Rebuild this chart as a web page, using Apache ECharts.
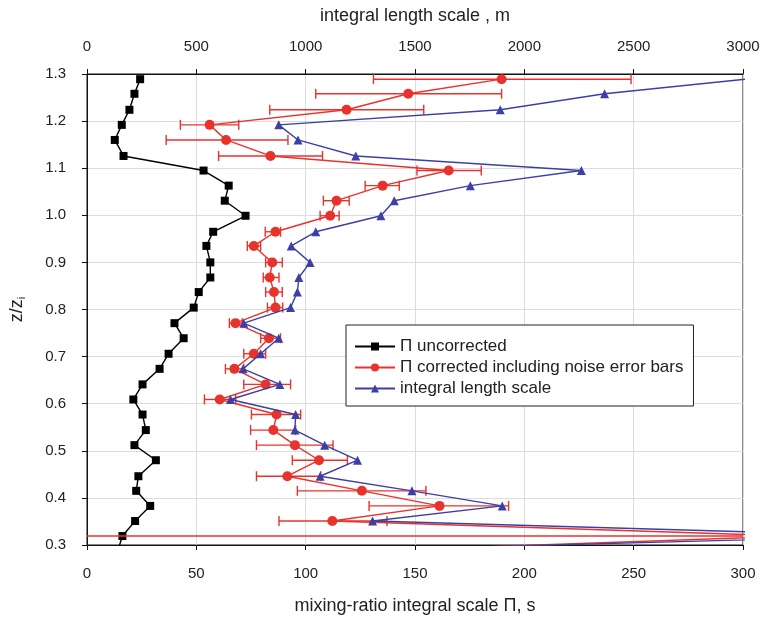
<!DOCTYPE html>
<html>
<head>
<meta charset="utf-8">
<script src="https://cdn.jsdelivr.net/npm/echarts@6/dist/echarts.min.js"></script>
<style>
  html, body { margin: 0; padding: 0; background: #fff; }
  #chart { width: 765px; height: 627px; }
</style>
</head>
<body>
<div id="chart"></div>
<script>
// height levels z/zi, bottom to top (first one lies below the axis)
var zLevels = [0.287, 0.319, 0.351, 0.383, 0.415, 0.446, 0.480, 0.512, 0.544, 0.577,
  0.609, 0.641, 0.674, 0.706, 0.739, 0.771, 0.804, 0.837, 0.868, 0.900,
  0.935, 0.965, 0.999, 1.031, 1.063, 1.095, 1.126, 1.160, 1.192, 1.224,
  1.258, 1.289];

// Π uncorrected, s
var piRaw = [14, 16.2, 22.0, 28.9, 22.5, 23.5, 31.5, 21.7, 26.9, 25.4,
  21.2, 25.4, 33.2, 37.3, 44.2, 40.0, 48.8, 51.1, 56.4, 56.4,
  54.6, 57.7, 72.5, 63.0, 64.8, 53.3, 16.7, 12.7, 15.9, 19.4,
  21.7, 24.3];

// Π corrected, s, with noise error bar ends
var piCorr = [125, 323, 112.2, 161.2, 125.7, 91.6, 106.1, 95.1, 85.2, 86.7,
  60.7, 81.7, 67.4, 76.3, 83.2, 67.9, 86.2, 85.5, 83.6, 84.7,
  76.3, 86.2, 111.2, 114.1, 135.2, 165.4, 83.9, 63.6, 56.1, 118.7,
  146.9, 189.6];
var piLow = [null, -20, 87.8, 129, 96.2, 77.5, 93.9, 77.5, 74.8, 75.2,
  53.7, 71.7, 63.3, 71.7, 79.4, 65.1, 82.5, 81.7, 80.6, 81.7,
  73.3, 81.5, 106.6, 108.1, 127.2, 150.9, 60.2, 36.2, 42.7, 83.6,
  104.6, 131];
var piHigh = [null, 400, 137.2, 192.8, 155, 106.9, 119.1, 112.5, 95.4, 97.7,
  68, 93.1, 71.7, 81.7, 88.5, 71.0, 89.5, 89.3, 87.8, 89.3,
  79.4, 88.5, 115.3, 119.9, 142.8, 180.3, 107.7, 91.9, 69.4, 154,
  189.6, 248.8];

// integral length scale, m
var lengthScale = [1064, 3674, 1306, 1899, 1486, 1066, 1237, 1087, 951, 954,
  656, 882, 714, 794, 877, 717, 931, 962, 969, 1020,
  934, 1046, 1344, 1405, 1753, 2261, 1229, 965, 877, 1890,
  2367, 3010];

var bottomTicks = [0, 50, 100, 150, 200, 250, 300];
var topTicks = [0, 500, 1000, 1500, 2000, 2500, 3000];

var legendNames = ["\u03a0 uncorrected", "\u03a0 corrected including noise error bars", "integral length scale"];

var RED = "#e8322c";
var BLUE = "#3c3fa6";
var FONT = "Liberation Sans";

function pairs(xs) {
  return xs.map(function (x, i) { return [x, zLevels[i]]; });
}

var errData = [];
for (var i = 0; i < zLevels.length; i++) {
  if (piLow[i] != null) errData.push([piLow[i], piHigh[i], zLevels[i]]);
}

var chart = echarts.init(document.getElementById("chart"));

var option = {
  animation: false,
  textStyle: { fontFamily: FONT },
  grid: {
    left: 87, right: 22, top: 74, bottom: 82,
    outerBoundsMode: "none",
    containLabel: false,
    show: true, borderColor: "#111", borderWidth: 1, backgroundColor: "#fff"
  },
  legend: {
    data: legendNames,
    orient: "vertical",
    left: 346, top: 325,
    backgroundColor: "#fff",
    borderColor: "#222", borderWidth: 1,
    padding: [13, 10, 9, 8],
    itemGap: 4,
    itemWidth: 40, itemHeight: 10,
    textStyle: { fontSize: 17, color: "#222", fontFamily: FONT }
  },
  xAxis: [
    {
      type: "value", position: "bottom",
      min: 0, max: 300, interval: 50,
      name: "mixing-ratio integral scale \u03a0, s",
      nameLocation: "middle", nameGap: 52,
      nameTextStyle: { fontSize: 18, color: "#222" },
      axisLine: { show: true, lineStyle: { color: "#111" } },
      axisTick: { show: true, length: 5, lineStyle: { color: "#111" } },
      axisLabel: {
        fontSize: 15, color: "#222", margin: 21,
        formatter: function (v) { return bottomTicks.indexOf(v) >= 0 ? String(v) : ""; }
      },
      splitLine: { show: true, lineStyle: { color: "#dcdcdc" } }
    },
    {
      type: "value", position: "top",
      min: 0, max: 3000, interval: 500,
      name: "integral length scale , m",
      nameLocation: "middle", nameGap: 49,
      nameTextStyle: { fontSize: 18, color: "#222" },
      axisLine: { show: true, lineStyle: { color: "#111" } },
      axisTick: { show: true, length: 5, lineStyle: { color: "#111" } },
      axisLabel: {
        fontSize: 15, color: "#222", margin: 20,
        formatter: function (v) { return topTicks.indexOf(v) >= 0 ? String(v) : ""; }
      },
      splitLine: { show: false }
    }
  ],
  yAxis: {
    type: "value",
    min: 0.3, max: 1.3, interval: 0.1,
    name: "{a|z/z}{b|i}",
    nameLocation: "middle", nameGap: 60, nameRotate: 90,
    nameTextStyle: {
      color: "#222",
      rich: {
        a: { fontSize: 18, color: "#222", fontFamily: FONT },
        b: { fontSize: 11, color: "#222", fontFamily: FONT, verticalAlign: "bottom", padding: [8, 0, 0, 0] }
      }
    },
    axisLine: { show: true, lineStyle: { color: "#111" } },
    axisTick: { show: true, length: 5, lineStyle: { color: "#111" } },
    axisLabel: {
      fontSize: 15, color: "#222", margin: 21,
      formatter: function (v) { return v.toFixed(1); }
    },
    splitLine: { show: true, lineStyle: { color: "#dcdcdc" } }
  },
  series: [
    {
      name: legendNames[0],
      type: "line",
      xAxisIndex: 0,
      data: pairs(piRaw),
      symbol: "rect", symbolSize: 8,
      itemStyle: { color: "#000" },
      lineStyle: { color: "#000", width: 1.4 },
      clip: true,
      z: 3
    },
    {
      name: "errors",
      type: "custom",
      xAxisIndex: 0,
      data: errData,
      encode: { x: [0, 1], y: 2 },
      clip: true,
      renderItem: function (params, api) {
        var lo = api.coord([api.value(0), api.value(2)]);
        var hi = api.coord([api.value(1), api.value(2)]);
        var cs = params.coordSys;
        var rect = { x: cs.x, y: cs.y, width: cs.width, height: cs.height };
        var style = { stroke: RED, lineWidth: 1.4 };
        var children = [];
        var seg = echarts.graphic.clipPointsByRect([lo, hi], rect);
        children.push({ type: "line", shape: { x1: seg[0][0], y1: seg[0][1], x2: seg[1][0], y2: seg[1][1] }, style: style });
        [lo, hi].forEach(function (p) {
          if (p[0] >= cs.x && p[0] <= cs.x + cs.width) {
            children.push({ type: "line", shape: { x1: p[0], y1: p[1] - 5, x2: p[0], y2: p[1] + 5 }, style: style });
          }
        });
        return { type: "group", children: children };
      },
      z: 4
    },
    {
      name: legendNames[1],
      type: "line",
      xAxisIndex: 0,
      data: pairs(piCorr),
      symbol: "circle", symbolSize: 10,
      itemStyle: { color: RED },
      lineStyle: { color: RED, width: 1.4 },
      clip: true,
      z: 5
    },
    {
      name: legendNames[2],
      type: "line",
      xAxisIndex: 1,
      data: pairs(lengthScale),
      symbol: "triangle", symbolSize: 9,
      itemStyle: { color: BLUE },
      lineStyle: { color: BLUE, width: 1.4 },
      clip: true,
      z: 6
    }
  ]
};

chart.setOption(option);
</script>
</body>
</html>
